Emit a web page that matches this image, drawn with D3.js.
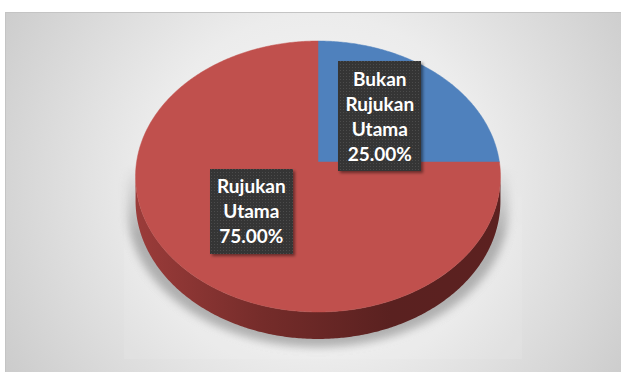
<!DOCTYPE html>
<html>
<head>
<meta charset="utf-8">
<script src="https://cdn.jsdelivr.net/npm/d3@7"></script>
<style>
  html, body { margin: 0; padding: 0; background: #ffffff; }
  svg { display: block; }
</style>
</head>
<body>
<svg id="chart" width="621" height="372"></svg>
<script>
// Data
const categories = ["Bukan Rujukan Utama", "Rujukan Utama"];
const values = [25, 75];
const labelLines = [["Bukan", "Rujukan", "Utama"], ["Rujukan", "Utama"]];
const colors = ["#4f81bd", "#c0504d"];

const svg = d3.select("#chart");
const W = 621, H = 372;
const defs = svg.append("defs");

// Background gradient of the chart area
const bg = defs.append("radialGradient").attr("id", "bg")
  .attr("gradientUnits", "userSpaceOnUse")
  .attr("cx", 318).attr("cy", 185).attr("r", 380);
bg.append("stop").attr("offset", 0).attr("stop-color", "#f8f8f8");
bg.append("stop").attr("offset", 0.45).attr("stop-color", "#ececec");
bg.append("stop").attr("offset", 1).attr("stop-color", "#c9c9c9");

// Side wall shading (light from the left)
const wall = defs.append("linearGradient").attr("id", "wall")
  .attr("gradientUnits", "userSpaceOnUse")
  .attr("x1", 135).attr("x2", 500).attr("y1", 0).attr("y2", 0);
wall.append("stop").attr("offset", 0).attr("stop-color", "#9b3c3a");
wall.append("stop").attr("offset", 0.35).attr("stop-color", "#752c2a");
wall.append("stop").attr("offset", 0.7).attr("stop-color", "#5a2120");
wall.append("stop").attr("offset", 1).attr("stop-color", "#5c2120");

// Soft shadow under the pie
const blur = defs.append("filter").attr("id", "shadowBlur")
  .attr("x", "-20%").attr("y", "-20%").attr("width", "140%").attr("height", "140%");
blur.append("feGaussianBlur").attr("stdDeviation", 4);
const fade = defs.append("linearGradient").attr("id", "fade")
  .attr("gradientUnits", "userSpaceOnUse")
  .attr("x1", 0).attr("x2", 0).attr("y1", 165).attr("y2", 235);
fade.append("stop").attr("offset", 0).attr("stop-color", "#000");
fade.append("stop").attr("offset", 1).attr("stop-color", "#fff");
defs.append("mask").attr("id", "shadowMask")
  .append("rect").attr("x", 0).attr("y", 0).attr("width", W).attr("height", H)
  .attr("fill", "url(#fade)");

// Dotted texture + drop shadow of the label boxes
const pat = defs.append("pattern").attr("id", "dots")
  .attr("patternUnits", "userSpaceOnUse").attr("width", 3).attr("height", 3);
pat.append("rect").attr("width", 3).attr("height", 3).attr("fill", "#363636");
pat.append("rect").attr("x", 1).attr("y", 1).attr("width", 1).attr("height", 1).attr("fill", "#4c4c4c");
const ds = defs.append("filter").attr("id", "boxShadow")
  .attr("x", "-20%").attr("y", "-20%").attr("width", "150%").attr("height", "150%");
ds.append("feDropShadow").attr("dx", 2).attr("dy", 2).attr("stdDeviation", 1.5)
  .attr("flood-color", "#000").attr("flood-opacity", 0.45);

// Chart area
svg.append("rect").attr("x", 5.5).attr("y", 12.5)
  .attr("width", W).attr("height", H)
  .attr("fill", "url(#bg)").attr("stroke", "#c4c4c4").attr("stroke-width", 1);

// Perspective projection of the pie disc
const cx = 318, cy = 162;      // centre of the top face
const k = 181.4;               // horizontal radius
const a = 116.6, c = -0.107;   // depth scale and perspective
const depth = 24.1;            // thickness of the pie
function proj(phi, r, h) {
  const xd = r * Math.sin(phi), zd = -r * Math.cos(phi);
  const w = 1 + c * zd;
  return [cx + k * xd / w, (a * zd + cy) / w + h * depth / w];
}
const TAU = 2 * Math.PI;
const phiR = Math.acos(c), phiL = TAU - phiR;   // visible front wall range
function arcPoints(a0, a1, h, r) {
  const n = Math.max(2, Math.ceil(Math.abs(a1 - a0) / 0.01));
  return d3.range(n + 1).map(i => proj(a0 + (a1 - a0) * i / n, r === undefined ? 1 : r, h));
}
const line = d3.line();

const pie = d3.pie().sort(null).value(d => d.value);
const data = categories.map((name, i) => ({ name, value: values[i], color: colors[i], lines: labelLines[i] }));
const arcs = pie(data);
const total = d3.sum(values);
const pct = d3.format(".2%");

// Shadow: a faint lit panel plus the blurred, lowered silhouette of the pie
const silhouette = arcPoints(phiR, phiL, 1).concat(arcPoints(phiL, phiR + TAU, 0));
const shadow = svg.append("g").attr("mask", "url(#shadowMask)");
shadow.append("rect").attr("x", 124).attr("y", 150).attr("width", 398).attr("height", 209)
  .attr("fill", "#ffffff").attr("opacity", 0.09);
shadow.append("path")
  .attr("d", line(silhouette) + "Z")
  .attr("transform", `translate(${cx},${cy + 8}) scale(1.045,1.0) translate(${-cx},${-cy})`)
  .attr("fill", "#7d7d7d").attr("opacity", 0.55)
  .attr("filter", "url(#shadowBlur)");

// Front walls
const walls = svg.append("g");
arcs.forEach(d => {
  const s0 = Math.max(d.startAngle, phiR), s1 = Math.min(d.endAngle, phiL);
  if (s0 >= s1) return;
  const pts = arcPoints(s0, s1, 0).concat(arcPoints(s1, s0, 1));
  walls.append("path").attr("d", line(pts) + "Z")
    .attr("fill", d.data.color === colors[1] ? "url(#wall)" : d3.color(d.data.color).darker(1.3))
    .attr("stroke", "none");
});

// Top faces
const tops = svg.append("g");
arcs.forEach(d => {
  const pts = [proj(0, 0, 0)].concat(arcPoints(d.startAngle, d.endAngle, 0));
  tops.append("path").attr("d", line(pts) + "Z")
    .attr("fill", d.data.color)
    .attr("stroke", d.data.color).attr("stroke-width", 0.5);
});

// Data labels
const lineH = 25, padX = 7, padY = 5;
const labels = svg.append("g")
  .style("font-family", "Lato, 'Open Sans', sans-serif")
  .style("font-weight", "bold").style("font-size", "19px");
arcs.forEach(d => {
  const mid = (d.startAngle + d.endAngle) / 2;
  const [lx, ly] = proj(mid, 0.5, 0);
  const textLines = d.data.lines.concat([pct(d.data.value / total)]);
  const g = labels.append("g");
  const box = g.append("rect").attr("fill", "url(#dots)").attr("filter", "url(#boxShadow)");
  const t = g.append("text").attr("fill", "#ffffff").attr("text-anchor", "middle");
  const h = textLines.length * lineH;
  textLines.forEach((s, i) => {
    t.append("tspan").attr("x", lx).attr("y", ly - h / 2 + lineH * i + lineH / 2)
      .attr("dy", "0.35em").text(s);
  });
  const bw = d3.max(t.selectAll("tspan").nodes(), n => n.getComputedTextLength()) + 2 * padX;
  const bh = h + 2 * padY;
  box.attr("x", Math.round(lx - bw / 2)).attr("y", Math.round(ly - bh / 2))
    .attr("width", Math.round(bw)).attr("height", Math.round(bh));
});
</script>
</body>
</html>
